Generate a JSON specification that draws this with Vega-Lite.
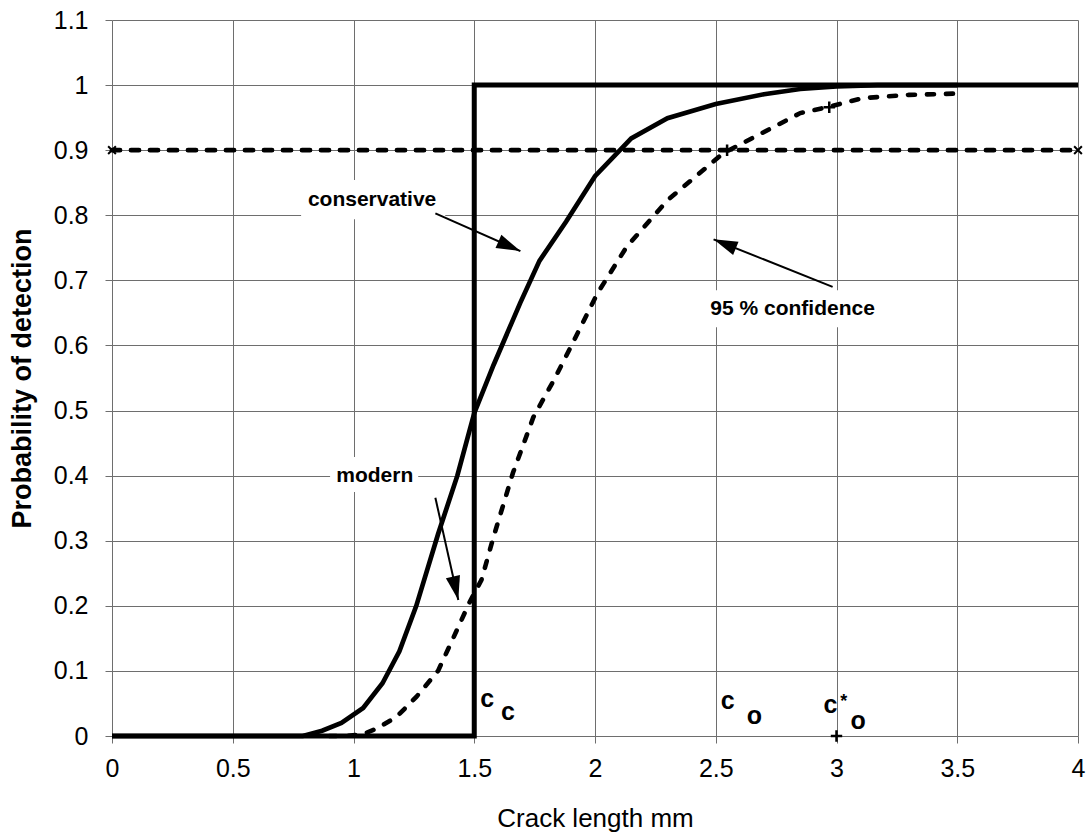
{
  "$schema": "https://vega.github.io/schema/vega-lite/v6.json",
  "width": 966,
  "height": 716,
  "autosize": {"type": "none"},
  "padding": {"left": 112, "right": 11, "top": 20, "bottom": 96},
  "background": "white",
  "config": {
    "view": {"stroke": null},
    "font": "Liberation Sans",
    "axis": {
      "domain": false,
      "grid": true,
      "gridColor": "#6e6e6e",
      "gridWidth": 1,
      "gridOpacity": 1,
      "tickColor": "#6e6e6e",
      "tickSize": 7,
      "tickWidth": 1,
      "labelFont": "Liberation Sans",
      "labelFontSize": 25,
      "labelColor": "black",
      "labelFlush": false,
      "labelOverlap": false,
      "titleFont": "Liberation Sans",
      "titleColor": "black"
    }
  },
  "datasets": {
    "boxes": [
      {"x1": 0.783, "x2": 1.38, "y1": 0.854, "y2": 0.794},
      {"x1": 2.437, "x2": 3.203, "y1": 0.685, "y2": 0.628},
      {"x1": 0.903, "x2": 1.268, "y1": 0.4286, "y2": 0.375}
    ],
    "step": [
      {"i": 1, "x": 0, "y": 0},
      {"i": 2, "x": 1.5, "y": 0},
      {"i": 3, "x": 1.5, "y": 1},
      {"i": 4, "x": 4, "y": 1}
    ],
    "conservative": [
      {"x": 0.0, "y": 0.0},
      {"x": 0.79, "y": 0.0},
      {"x": 0.87, "y": 0.008},
      {"x": 0.95, "y": 0.02},
      {"x": 1.04, "y": 0.043},
      {"x": 1.12, "y": 0.081},
      {"x": 1.19, "y": 0.13},
      {"x": 1.26, "y": 0.2},
      {"x": 1.35, "y": 0.31},
      {"x": 1.43, "y": 0.4},
      {"x": 1.5, "y": 0.496},
      {"x": 1.58, "y": 0.57},
      {"x": 1.69, "y": 0.665},
      {"x": 1.77, "y": 0.73},
      {"x": 1.88, "y": 0.79},
      {"x": 2.0, "y": 0.86},
      {"x": 2.15, "y": 0.918},
      {"x": 2.3, "y": 0.949},
      {"x": 2.5, "y": 0.971},
      {"x": 2.7, "y": 0.986},
      {"x": 2.85, "y": 0.994},
      {"x": 3.0, "y": 0.998},
      {"x": 3.17, "y": 1.0},
      {"x": 3.5, "y": 1.0}
    ],
    "confidence": [
      {"x": 0.9, "y": 0.0},
      {"x": 0.97, "y": 0.0},
      {"x": 1.04, "y": 0.003},
      {"x": 1.1, "y": 0.012},
      {"x": 1.18, "y": 0.03},
      {"x": 1.26, "y": 0.06},
      {"x": 1.35, "y": 0.1},
      {"x": 1.41, "y": 0.148},
      {"x": 1.48, "y": 0.205},
      {"x": 1.53, "y": 0.24},
      {"x": 1.58, "y": 0.306},
      {"x": 1.66, "y": 0.404},
      {"x": 1.745, "y": 0.49},
      {"x": 1.83, "y": 0.547},
      {"x": 1.9, "y": 0.598},
      {"x": 2.01, "y": 0.68},
      {"x": 2.13, "y": 0.751},
      {"x": 2.3, "y": 0.823},
      {"x": 2.53, "y": 0.895},
      {"x": 2.69, "y": 0.926},
      {"x": 2.85, "y": 0.957},
      {"x": 2.96, "y": 0.966},
      {"x": 3.11, "y": 0.98},
      {"x": 3.3, "y": 0.985},
      {"x": 3.5, "y": 0.987}
    ],
    "p90": [
      {"x": 0, "y": 0.9},
      {"x": 4, "y": 0.9}
    ],
    "plus": [
      {"x": 2.547, "y": 0.9},
      {"x": 2.97, "y": 0.966},
      {"x": 3.0, "y": 0.0}
    ],
    "cross": [
      {"x": 0, "y": 0.9},
      {"x": 4, "y": 0.9}
    ],
    "labels": [
      {"x": 1.077, "y": 0.814, "t": "conservative"},
      {"x": 2.818, "y": 0.647, "t": "95 % confidence"},
      {"x": 1.088, "y": 0.39, "t": "modern"}
    ],
    "arrows": [
      {"a": "conservative", "x0": 1.339, "y0": 0.803, "x": 1.691, "y": 0.745},
      {"a": "confidence", "x0": 2.984, "y0": 0.69, "x": 2.491, "y": 0.763},
      {"a": "modern", "x0": 1.339, "y0": 0.366, "x": 1.434, "y": 0.209}
    ],
    "letters": [
      {"x": 1.554, "y": 0.045, "t": "c"},
      {"x": 1.64, "y": 0.025, "t": "c"},
      {"x": 2.55, "y": 0.041, "t": "c"},
      {"x": 2.66, "y": 0.018, "t": "o"},
      {"x": 2.975, "y": 0.035, "t": "c"},
      {"x": 3.09, "y": 0.011, "t": "o"}
    ],
    "stars": [
      {"x": 3.03, "y": 0.045, "t": "*"}
    ]
  },
  "layer": [
    {
      "data": {"name": "boxes"},
      "mark": {"type": "rect", "fill": "white", "stroke": null},
      "encoding": {
        "x": {
          "field": "x1", "type": "quantitative", "title": "Crack length mm",
          "scale": {"domain": [0, 4], "nice": false, "zero": false},
          "axis": {
            "values": [0, 0.5, 1, 1.5, 2, 2.5, 3, 3.5, 4],
            "format": ".1~f",
            "labelPadding": 13,
            "labelBaseline": "top",
            "labelFlush": false,
            "titleFontSize": 26,
            "titleFontWeight": "normal",
            "titleBaseline": "top",
            "titleY": 69
          }
        },
        "x2": {"field": "x2"},
        "y": {
          "field": "y1", "type": "quantitative", "title": "Probability of detection",
          "scale": {"domain": [0, 1.1], "nice": false, "zero": false},
          "axis": {
            "values": [0, 0.1, 0.2, 0.3, 0.4, 0.5, 0.6, 0.7, 0.8, 0.9, 1, 1.1],
            "format": ".1~f",
            "labelPadding": 17,
            "labelFlush": false,
            "titleFontSize": 27,
            "titleFontWeight": "bold",
            "titleBaseline": "alphabetic",
            "titleAlign": "center",
            "titleAngle": 270,
            "titleX": -82
          }
        },
        "y2": {"field": "y2"}
      }
    },
    {
      "data": {"name": "step"},
      "mark": {"type": "line", "stroke": "black", "strokeWidth": 5, "strokeJoin": "miter"},
      "encoding": {
        "x": {"field": "x", "type": "quantitative", "title": "Crack length mm"},
        "y": {"field": "y", "type": "quantitative", "title": "Probability of detection"},
        "order": {"field": "i", "type": "quantitative"}
      }
    },
    {
      "data": {"name": "p90"},
      "mark": {"type": "line", "stroke": "black", "strokeWidth": 4.8, "strokeDash": [8, 11], "strokeCap": "round"},
      "encoding": {
        "x": {"field": "x", "type": "quantitative", "title": "Crack length mm"},
        "y": {"field": "y", "type": "quantitative", "title": "Probability of detection"}
      }
    },
    {
      "data": {"name": "conservative"},
      "mark": {"type": "line", "stroke": "black", "strokeWidth": 4.7},
      "encoding": {
        "x": {"field": "x", "type": "quantitative", "title": "Crack length mm"},
        "y": {"field": "y", "type": "quantitative", "title": "Probability of detection"}
      }
    },
    {
      "data": {"name": "confidence"},
      "mark": {"type": "line", "stroke": "black", "strokeWidth": 4.6, "strokeDash": [7, 12], "strokeCap": "round"},
      "encoding": {
        "x": {"field": "x", "type": "quantitative", "title": "Crack length mm"},
        "y": {"field": "y", "type": "quantitative", "title": "Probability of detection"}
      }
    },
    {
      "data": {"name": "plus"},
      "mark": {"type": "point", "shape": "M-1,0L1,0M0,-1L0,1", "filled": false, "stroke": "black", "strokeWidth": 2.5, "size": 130, "opacity": 1},
      "encoding": {
        "x": {"field": "x", "type": "quantitative", "title": "Crack length mm"},
        "y": {"field": "y", "type": "quantitative", "title": "Probability of detection"}
      }
    },
    {
      "data": {"name": "cross"},
      "mark": {"type": "point", "shape": "M-1,-1L1,1M-1,1L1,-1", "filled": false, "stroke": "black", "strokeWidth": 2, "size": 60, "opacity": 1},
      "encoding": {
        "x": {"field": "x", "type": "quantitative", "title": "Crack length mm"},
        "y": {"field": "y", "type": "quantitative", "title": "Probability of detection"}
      }
    },
    {
      "data": {"name": "arrows"},
      "mark": {"type": "rule", "stroke": "black", "strokeWidth": 2},
      "encoding": {
        "x": {"field": "x0", "type": "quantitative", "title": "Crack length mm"},
        "y": {"field": "y0", "type": "quantitative", "title": "Probability of detection"},
        "x2": {"field": "x"},
        "y2": {"field": "y"}
      }
    },
    {
      "data": {"name": "arrows"},
      "transform": [{"filter": "datum.a === 'conservative'"}],
      "mark": {"type": "point", "shape": "M0,0L0.6,2L-0.6,2Z", "filled": true, "fill": "black", "stroke": null, "size": 576, "angle": 114, "opacity": 1},
      "encoding": {
        "x": {"field": "x", "type": "quantitative", "title": "Crack length mm"},
        "y": {"field": "y", "type": "quantitative", "title": "Probability of detection"}
      }
    },
    {
      "data": {"name": "arrows"},
      "transform": [{"filter": "datum.a === 'confidence'"}],
      "mark": {"type": "point", "shape": "M0,0L0.6,2L-0.6,2Z", "filled": true, "fill": "black", "stroke": null, "size": 576, "angle": 292, "opacity": 1},
      "encoding": {
        "x": {"field": "x", "type": "quantitative", "title": "Crack length mm"},
        "y": {"field": "y", "type": "quantitative", "title": "Probability of detection"}
      }
    },
    {
      "data": {"name": "arrows"},
      "transform": [{"filter": "datum.a === 'modern'"}],
      "mark": {"type": "point", "shape": "M0,0L0.6,2L-0.6,2Z", "filled": true, "fill": "black", "stroke": null, "size": 576, "angle": 167, "opacity": 1},
      "encoding": {
        "x": {"field": "x", "type": "quantitative", "title": "Crack length mm"},
        "y": {"field": "y", "type": "quantitative", "title": "Probability of detection"}
      }
    },
    {
      "data": {"name": "labels"},
      "mark": {"type": "text", "font": "Liberation Sans", "fontWeight": "bold", "fontSize": 21, "align": "center", "baseline": "alphabetic", "color": "black"},
      "encoding": {
        "x": {"field": "x", "type": "quantitative", "title": "Crack length mm"},
        "y": {"field": "y", "type": "quantitative", "title": "Probability of detection"},
        "text": {"field": "t"}
      }
    },
    {
      "data": {"name": "letters"},
      "mark": {"type": "text", "font": "Liberation Sans", "fontWeight": "bold", "fontSize": 25, "align": "center", "baseline": "alphabetic", "color": "black"},
      "encoding": {
        "x": {"field": "x", "type": "quantitative", "title": "Crack length mm"},
        "y": {"field": "y", "type": "quantitative", "title": "Probability of detection"},
        "text": {"field": "t"}
      }
    },
    {
      "data": {"name": "stars"},
      "mark": {"type": "text", "font": "Liberation Sans", "fontWeight": "bold", "fontSize": 18, "align": "center", "baseline": "alphabetic", "color": "black"},
      "encoding": {
        "x": {"field": "x", "type": "quantitative", "title": "Crack length mm"},
        "y": {"field": "y", "type": "quantitative", "title": "Probability of detection"},
        "text": {"field": "t"}
      }
    }
  ]
}
